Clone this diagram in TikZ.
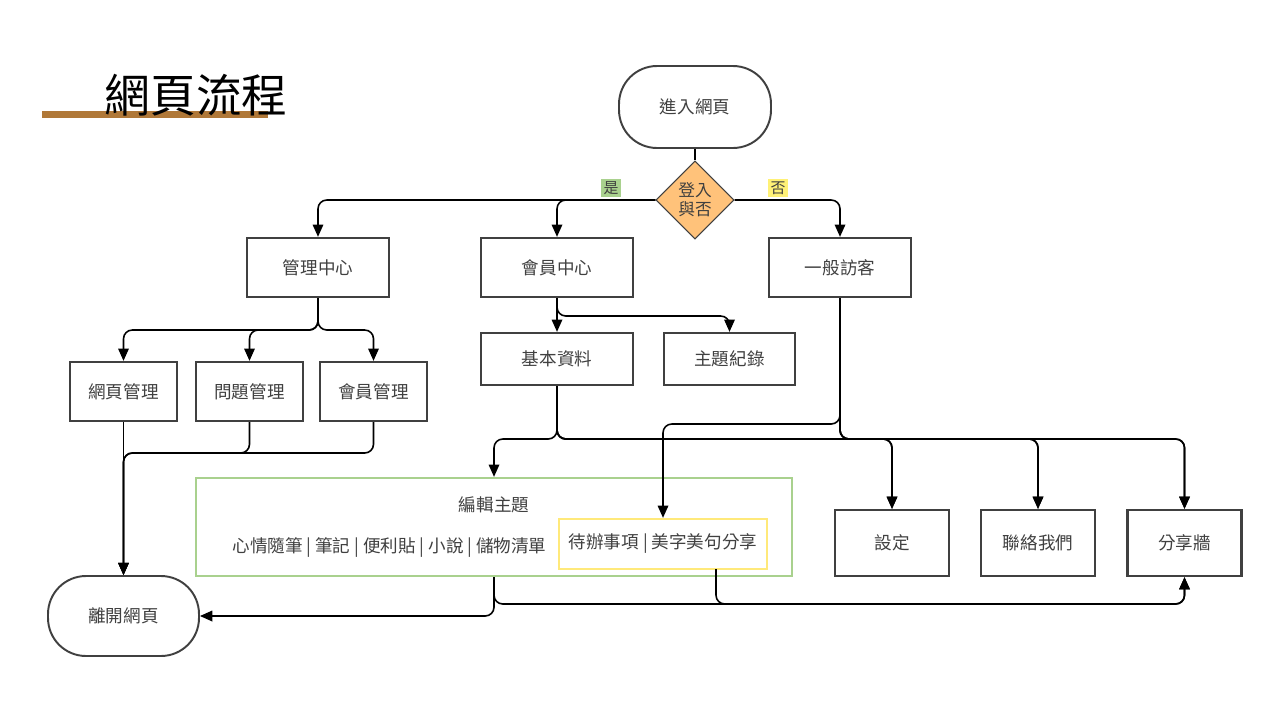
\documentclass[tikz,border=0pt]{standalone}
\usepackage{fontspec}
\setmainfont{Noto Sans CJK TC}
\usetikzlibrary{shapes.geometric,arrows.meta}
\definecolor{boxgray}{HTML}{404040}
\definecolor{barbrown}{HTML}{B07838}
\definecolor{diafill}{HTML}{FFC27A}
\definecolor{yesgreen}{HTML}{A9D18E}
\definecolor{noyellow}{HTML}{FFF176}
\definecolor{todoyellow}{HTML}{FFE97A}
\begin{document}
\begin{tikzpicture}[x=0.02cm,y=-0.02cm]
 \tikzset{box/.style={draw=boxgray, line width=1.3pt, text=boxgray, font=\fontsize{10}{12}\selectfont, inner sep=2pt},
  stadium/.style={box, line width=1.1pt, rounded corners=0.76cm},
  flow/.style={line width=0.9pt, rounded corners=5pt, -{Triangle[width=6pt,length=7pt]}},
  txt/.style={text=boxgray, font=\fontsize{10}{12}\selectfont, inner sep=1pt},
  tag/.style={text=boxgray, font=\fontsize{8.5}{10}\selectfont, inner sep=1.2pt}}
  \useasboundingbox[fill=white] (0,0) rectangle (1280,720);
  \fill[barbrown] (42,111) rectangle (268,118);
  \node[font=\fontsize{26}{30}\selectfont, inner sep=0] (title) at (196,95) {網頁流程};
  \node[stadium, minimum width=3.04cm, minimum height=1.64cm] (start) at (695,107) {進入網頁};
  \node[draw=boxgray, line width=0.6pt, fill=diafill, diamond, minimum width=1.56cm, minimum height=1.56cm, inner sep=0, align=center, text=boxgray, font=\fontsize{9.5}{11}\selectfont] (login) at (695,200) {登入\\與否};
  \node[tag, fill=yesgreen] (yes) at (611,188) {是};
  \node[tag, fill=noyellow] (no) at (778,188) {否};
  \node[box, minimum width=2.84cm, minimum height=1.18cm] (admin) at (318,267.5) {管理中心};
  \node[box, minimum width=3.04cm, minimum height=1.18cm] (member) at (557,267.5) {會員中心};
  \node[box, minimum width=2.84cm, minimum height=1.18cm] (guest) at (840,267.5) {一般訪客};
  \node[box, minimum width=2.14cm, minimum height=1.18cm] (webm) at (123.5,391.5) {網頁管理};
  \node[box, minimum width=2.14cm, minimum height=1.18cm] (qm) at (249.5,391.5) {問題管理};
  \node[box, minimum width=2.14cm, minimum height=1.18cm] (mm) at (373.5,391.5) {會員管理};
  \node[box, minimum width=3.04cm, minimum height=1.04cm] (basic) at (557,359) {基本資料};
  \node[box, minimum width=2.62cm, minimum height=1.04cm] (topic) at (729.5,359) {主題紀錄};
  \node[draw=yesgreen, line width=1.3pt, minimum width=11.92cm, minimum height=1.96cm] (edit) at (494,527) {};
  \node[txt] (edittitle) at (494,505) {編輯主題};
  \node[txt] (items) at (389.5,547) {心情隨筆 | 筆記 | 便利貼 | 小說 | 儲物清單};
  \node[txt, draw=todoyellow, line width=1.3pt, minimum width=4.16cm, minimum height=1.0cm] (todo) at (663,544) {待辦事項 | 美字美句分享};
  \node[box, minimum width=2.28cm, minimum height=1.32cm] (settings) at (892,543) {設定};
  \node[box, minimum width=2.28cm, minimum height=1.32cm] (contact) at (1038,543) {聯絡我們};
  \node[box, minimum width=2.28cm, minimum height=1.32cm] (share) at (1184.5,543) {分享牆};
  \node[stadium, minimum width=3.02cm, minimum height=1.6cm] (leave) at (123.5,616) {離開網頁};
  \coordinate (a1) at (318,330);
  \coordinate (m1) at (557,316);
  \coordinate (b1) at (557,439);
  \coordinate (g1) at (840,424);
  \coordinate (g2) at (840,439);
  \coordinate (q1) at (249.5,453);
  \coordinate (mm1) at (373.5,453);
  \coordinate (e1) at (494,616);
  \coordinate (e2) at (494,604);
  \coordinate (t0) at (716,569);
  \coordinate (t1) at (716,604);
  \draw[line width=0.9pt] (start) -- (login);
  \draw[flow] (login.west) -| (admin.north);
  \draw[flow] (login.west) -| (member.north);
  \draw[flow] (login.east) -| (guest.north);
  \draw[flow] (admin.south) -- (a1) -| (webm.north);
  \draw[flow] (admin.south) -- (a1) -| (qm.north);
  \draw[flow] (admin.south) -- (a1) -| (mm.north);
  \draw[flow] (member.south) -- (basic.north);
  \draw[flow] (member.south) -- (m1) -| (topic.north);
  \draw[flow] (basic.south) -- (b1) -| (edit.north);
  \draw[flow] (basic.south) -- (b1) -| (settings.north);
  \draw[flow] (basic.south) -- (b1) -| (contact.north);
  \draw[flow] (basic.south) -- (b1) -| (share.north);
  \draw[flow] (guest.south) -- (g1) -| (todo.north);
  \draw[flow] (guest.south) -- (g2) -| (settings.north);
  \draw[flow] (guest.south) -- (g2) -| (contact.north);
  \draw[flow] (guest.south) -- (g2) -| (share.north);
  \draw[flow] (webm.south) -- (leave.north);
  \draw[flow] (qm.south) -- (q1) -| (leave.north);
  \draw[flow] (mm.south) -- (mm1) -| (leave.north);
  \draw[flow] (edit.south) -- (e1) -- (leave.east);
  \draw[flow] (edit.south) -- (e2) -| (share.south);
  \draw[flow] (t0) -- (t1) -| (share.south);
\end{tikzpicture}
\end{document}
